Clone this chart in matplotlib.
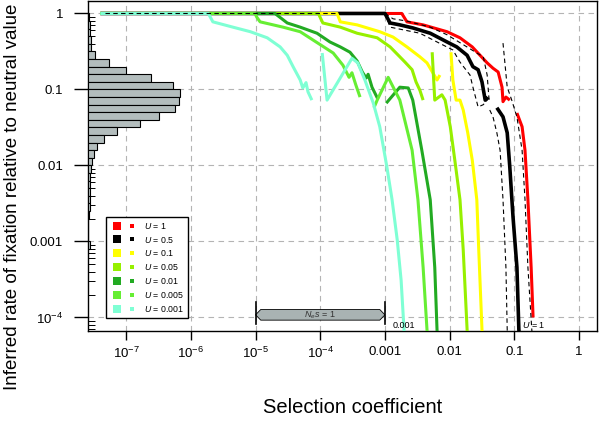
import numpy as np
import matplotlib
matplotlib.use('Agg')
import matplotlib.pyplot as plt
from matplotlib.lines import Line2D
from matplotlib.legend_handler import HandlerTuple
from matplotlib.patches import Polygon
from matplotlib.ticker import FixedLocator, LogLocator, NullFormatter

plt.rcParams['font.family'] = ['Liberation Sans', 'DejaVu Sans']
plt.rcParams['mathtext.fontset'] = 'custom'
plt.rcParams['mathtext.rm'] = 'Liberation Sans'
plt.rcParams['mathtext.it'] = 'Liberation Sans:italic'
plt.rcParams['mathtext.bf'] = 'Liberation Sans:bold'

# ---------------- data (log10 of s, log10 of inferred rate) ----------------
U_labels = ['1', '0.5', '0.1', '0.05', '0.01', '0.005', '0.001']
U_colors = ['#FF0000', '#000000', '#FFFF00', '#96F000', '#22AA22', '#66EE33', '#7FFFD4']

u1_hi_ls = [-7.40, -2.74, -2.66, -2.41, -2.04, -1.84, -1.65, -1.53, -1.42, -1.33, -1.25, -1.19, -1.175, -1.13, -1.07]
u1_hi_lr = [0, 0, -0.11, -0.15, -0.24, -0.32, -0.44, -0.55, -0.65, -0.72, -0.77, -0.97, -1.16, -1.10, -1.14]
u1_lo_ls = [-0.96, -0.88, -0.835, -0.79, -0.74, -0.71]
u1_lo_lr = [-1.31, -1.49, -1.80, -2.45, -3.34, -4.0]

u05_hi_ls = [-7.40, -3.00, -2.92, -2.77, -2.57, -2.30, -2.04, -1.89, -1.73, -1.64, -1.56, -1.50, -1.45, -1.41]
u05_hi_lr = [0, 0, -0.125, -0.15, -0.19, -0.26, -0.375, -0.44, -0.55, -0.70, -0.74, -0.90, -1.14, -1.10]
u05_lo_ls = [-1.27, -1.175, -1.11, -1.07, -1.02, -0.96, -0.93, -0.91]
u05_lo_lr = [-1.24, -1.36, -1.57, -2.02, -2.68, -3.34, -4.16, -4.36]

u01_hi_ls = [-7.40, -3.74, -3.69, -3.43, -3.08, -2.875, -2.66, -2.46, -2.35, -2.26, -2.195, -2.15]
u01_hi_lr = [0, 0, -0.11, -0.15, -0.24, -0.31, -0.44, -0.57, -0.65, -0.78, -0.875, -0.81]
u01_lo_ls = [-1.98, -1.95, -1.90, -1.84, -1.79, -1.72, -1.65, -1.58, -1.55, -1.50, -1.48]
u01_lo_lr = [-0.51, -0.875, -1.14, -1.14, -1.27, -1.57, -1.93, -2.45, -3.11, -4.16, -4.36]

u005_hi_ls = [-7.40, -4.03, -3.96, -3.69, -3.43, -3.12, -2.92, -2.77, -2.69, -2.58, -2.52, -2.46, -2.41]
u005_hi_lr = [0, 0, -0.125, -0.18, -0.26, -0.32, -0.44, -0.57, -0.64, -0.74, -0.90, -1.01, -1.14]
u005_lo_ls = [-2.27, -2.23, -2.12, -2.07, -1.99, -1.92, -1.84, -1.79, -1.73, -1.72]
u005_lo_lr = [-0.51, -1.14, -1.07, -1.14, -1.49, -1.93, -2.45, -3.11, -4.16, -4.36]

u001_hi_ls = [-7.40, -4.70, -4.67, -4.51, -4.31, -4.05, -3.85, -3.69, -3.54, -3.43, -3.35, -3.29, -3.26, -3.20, -3.11]
u001_hi_lr = [0, 0, -0.02, -0.125, -0.18, -0.26, -0.375, -0.44, -0.51, -0.625, -0.77, -0.85, -0.80, -0.97, -1.125]
u001_lo_ls = [-2.98, -2.77, -2.64, -2.57, -2.43, -2.30, -2.23, -2.195, -2.18]
u001_lo_lr = [-1.18, -0.97, -0.98, -1.14, -1.80, -2.45, -3.34, -4.16, -4.36]

u0005_hi_ls = [-7.40, -5.01, -4.98, -4.93, -4.575, -4.31, -4.11, -3.80, -3.65, -3.555, -3.51, -3.45, -3.385]
u0005_hi_lr = [0, 0, -0.05, -0.11, -0.18, -0.24, -0.35, -0.52, -0.68, -0.84, -0.78, -0.94, -1.10]
u0005_lo_ls = [-3.17, -3.12, -2.95, -2.77, -2.58, -2.49, -2.41, -2.35, -2.33]
u0005_lo_lr = [-1.24, -1.14, -0.84, -1.14, -1.80, -2.45, -3.34, -4.16, -4.36]

u0001_hi_ls = [-7.40, -5.73, -5.66, -5.35, -5.08, -4.82, -4.62, -4.51, -4.42, -4.31, -4.27, -4.22, -4.19, -4.13]
u0001_hi_lr = [0, 0, -0.11, -0.18, -0.24, -0.32, -0.44, -0.55, -0.70, -0.875, -0.98, -0.91, -1.03, -1.14]
u0001_lo_ls = [-3.97, -3.895, -3.51, -3.42, -3.31, -3.18, -3.08, -2.97, -2.89, -2.81, -2.75, -2.705, -2.69]
u0001_lo_lr = [-0.52, -1.14, -0.59, -0.65, -0.875, -1.18, -1.49, -2.02, -2.45, -2.98, -3.51, -4.16, -4.36]

# dashed black reference curves around U = 0.5
d_flat_ls = [-7.33, -3.00]
d_flat_lr = [0, 0]
d_hi_a_ls = [-3.00, -2.92, -2.46, -2.195, -1.95, -1.84, -1.685, -1.64, -1.56, -1.48, -1.38]
d_hi_a_lr = [0, -0.18, -0.26, -0.375, -0.48, -0.64, -0.81, -0.97, -1.23, -1.20, -1.10]
d_hi_b_ls = [-3.00, -2.875, -2.66, -2.30, -2.04, -1.79, -1.58, -1.48, -1.42, -1.39]
d_hi_b_lr = [0, -0.07, -0.10, -0.18, -0.28, -0.41, -0.52, -0.57, -0.81, -1.14]
d_lo_a_ls = [-1.38, -1.33, -1.27, -1.22, -1.175, -1.13, -1.11, -1.10]
d_lo_a_lr = [-1.27, -1.36, -1.57, -1.80, -2.45, -3.34, -4.16, -4.36]
d_lo_b_ls = [-1.175, -1.11, -1.04, -0.96, -0.88, -0.835, -0.79, -0.73, -0.71]
d_lo_b_lr = [-0.39, -0.97, -1.14, -1.36, -1.80, -2.45, -3.34, -4.16, -4.36]

# histogram of inferred rates (bins of 0.1 in log10, from 0 downwards)
hist_bin_top = np.round(np.arange(0, -3.1, -0.1), 1)
hist_counts = [1, 2, 2, 3, 3, 7, 21, 38, 63, 85, 92, 91, 87, 71, 52, 29, 16, 9, 6, 4,
               3, 2, 2, 2, 2, 2, 1, 0, 0, 0, 2]

x_tick_labels = [r'$10^{-7}$', r'$10^{-6}$', r'$10^{-5}$', r'$10^{-4}$', '0.001', '0.01', '0.1', '1']
y_tick_labels = [r'$10^{-4}$', '0.001', '0.01', '0.1', '1']

# ---------------- figure ----------------
fig = plt.figure(figsize=(6, 4.22), dpi=100)
ax = fig.add_axes([0.1467, 0.2156, 0.8483, 0.782])
ax.set_xscale('log')
ax.set_yscale('log')
ax.set_xlim(10 ** -7.59, 10 ** 0.278)
ax.set_ylim(10 ** -4.178, 10 ** 0.164)

grid_kw = dict(color='#b4b4b4', lw=0.8, ls=(0, (5, 4)), zorder=0)
for e in range(-7, 1):
    ax.axvline(10.0 ** e, **grid_kw)
for e in range(-4, 1):
    ax.axhline(10.0 ** e, **grid_kw)

curves = [
    (u1_hi_ls, u1_hi_lr, u1_lo_ls, u1_lo_lr),
    (u05_hi_ls, u05_hi_lr, u05_lo_ls, u05_lo_lr),
    (u01_hi_ls, u01_hi_lr, u01_lo_ls, u01_lo_lr),
    (u005_hi_ls, u005_hi_lr, u005_lo_ls, u005_lo_lr),
    (u001_hi_ls, u001_hi_lr, u001_lo_ls, u001_lo_lr),
    (u0005_hi_ls, u0005_hi_lr, u0005_lo_ls, u0005_lo_lr),
    (u0001_hi_ls, u0001_hi_lr, u0001_lo_ls, u0001_lo_lr),
]
for (hs, hr, ls_, lr_), col in zip(curves, U_colors):
    lw = 2.6 if col == '#000000' else 2.2
    ax.plot(10 ** np.array(hs), 10 ** np.array(hr), color=col, lw=lw,
            solid_joinstyle='round', solid_capstyle='butt', zorder=3)
    ax.plot(10 ** np.array(ls_), 10 ** np.array(lr_), color=col, lw=lw,
            solid_joinstyle='round', solid_capstyle='butt', zorder=3)

for xs, ys in [(d_flat_ls, d_flat_lr), (d_hi_a_ls, d_hi_a_lr), (d_hi_b_ls, d_hi_b_lr),
               (d_lo_a_ls, d_lo_a_lr), (d_lo_b_ls, d_lo_b_lr)]:
    ax.plot(10 ** np.array(xs), 10 ** np.array(ys), color='black', lw=0.8,
            ls=(0, (4, 3)), zorder=4)

# ticks
ax.xaxis.set_major_locator(FixedLocator(10.0 ** np.arange(-7, 1)))
ax.xaxis.set_minor_locator(FixedLocator([]))
ax.set_xticklabels(x_tick_labels)
ax.yaxis.set_major_locator(FixedLocator(10.0 ** np.arange(-4, 1)))
ax.yaxis.set_minor_locator(LogLocator(base=10, subs=np.arange(2, 10)))
ax.yaxis.set_minor_formatter(NullFormatter())
ax.set_yticklabels(y_tick_labels)
ax.tick_params(axis='x', which='major', direction='out', length=6.5, width=1, pad=4, labelsize=9.5)
ax.tick_params(axis='y', which='major', direction='out', length=10, width=1, pad=8, labelsize=9.5)
ax.tick_params(axis='y', which='minor', direction='in', length=5, width=0.7)
for sp in ax.spines.values():
    sp.set_linewidth(1.0)

ax.set_xlabel('Selection coefficient', fontsize=14.5)
ax.set_ylabel('Inferred rate of fixation relative to neutral value', fontsize=13.5)
ax.xaxis.set_label_coords(0.52, -0.204)
ax.yaxis.set_label_coords(-0.131, 0.406)

# N_e s = 1 double arrow
c, top, bot, h = -3.965, -3.895, -4.035, 0.08
arrow_pts = [(-5, c), (-5 + h, top), (-3 - h, top), (-3, c), (-3 - h, bot), (-5 + h, bot)]
ax.add_patch(Polygon([(10 ** a, 10 ** b) for a, b in arrow_pts], closed=True,
                     fc='#a9b3b3', ec='black', lw=0.6, zorder=5))
for e in (-5, -3):
    ax.plot([10.0 ** e, 10.0 ** e], [10 ** -3.79, 10 ** -4.08], color='black', lw=1.2, zorder=6)
ax.text(10 ** -4, 10 ** c, r'$N_{e}s$ = 1', fontsize=6.5, ha='center', va='center',
        color='#333333', zorder=7)
ax.text(10 ** -2.88, 10 ** -4.10, '0.001', fontsize=6.5, ha='left', va='center', zorder=7)
ax.text(10 ** -0.886, 10 ** -4.10, r'$U$ = 1', fontsize=6.5, ha='left', va='center', zorder=7)

# legend
handles = []
for col in U_colors:
    big = Line2D([], [], marker='s', ls='none', color=col, markersize=5.8, markeredgewidth=0)
    small = Line2D([], [], marker='s', ls='none', color=col, markersize=3, markeredgewidth=0)
    handles.append((big, small))
labels = [r'$U$ = ' + u for u in U_labels]
leg = ax.legend(handles, labels, handler_map={tuple: HandlerTuple(ndivide=None, pad=0)},
                loc='lower left', bbox_to_anchor=(0.035, 0.039), borderaxespad=0,
                fontsize=6.3, handlelength=3.4, handletextpad=0.5, labelspacing=0.45,
                borderpad=0.45, frameon=True, fancybox=False, framealpha=1)
leg.get_frame().set_edgecolor('black')
leg.get_frame().set_linewidth(1.0)
leg.set_zorder(10)

# histogram along the left side
ax2 = ax.twiny()
ax2.set_xlim(0, 509)
ax2.xaxis.set_visible(False)
for sp in ax2.spines.values():
    sp.set_visible(False)
lo = 10 ** (hist_bin_top - 0.1)
hi = 10 ** hist_bin_top
ax2.barh(lo, hist_counts, height=hi - lo, align='edge', left=0,
         color='#b3bdbd', edgecolor='black', linewidth=0.8)

fig.savefig('out.png', dpi=100)
